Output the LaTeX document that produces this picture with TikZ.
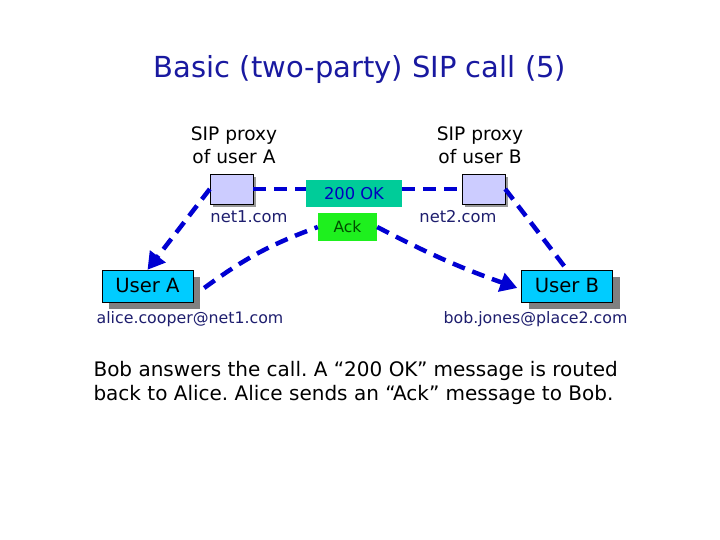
\documentclass[tikz,border=0pt]{standalone}
\usepackage{fontspec}
\setmainfont{DejaVu Sans}
\usepackage{xcolor}
\usetikzlibrary{arrows.meta,positioning,calc,shadows}
\definecolor{titleblue}{RGB}{25,25,160}
\definecolor{labnavy}{RGB}{30,30,110}
\definecolor{linkblue}{RGB}{0,0,210}
\definecolor{proxyfill}{RGB}{204,204,255}
\definecolor{okfill}{RGB}{0,204,153}
\definecolor{ackfill}{RGB}{30,240,30}
\definecolor{userfill}{RGB}{0,204,255}
\frenchspacing
\begin{document}
\begin{tikzpicture}[x=1pt,y=1pt,
  proxybox/.style={draw=black,fill=proxyfill,minimum width=43pt,minimum height=30pt,inner sep=0pt,
    drop shadow={shadow xshift=3pt,shadow yshift=-3pt,fill=gray!80,opacity=1}},
  userbox/.style={draw=black,fill=userfill,minimum width=91pt,minimum height=32pt,inner sep=0pt,
    font=\fontsize{19.6}{22}\selectfont,
    drop shadow={shadow xshift=7pt,shadow yshift=-7pt,fill=gray,opacity=1}},
  msgbox/.style={minimum height=27pt,inner sep=0pt},
  lab/.style={text=labnavy,font=\fontsize{16.3}{18}\selectfont},
  link/.style={draw=linkblue,line width=4.5pt,dash pattern=on 13pt off 8pt},
  tip/.style={-{Triangle[length=17pt,width=19pt]}}]
\useasboundingbox (0,0) rectangle (720,540);
\node[text=titleblue,font=\fontsize{29}{34}\selectfont] (title) at (360,470) {Basic (two-party) SIP call (5)};
% proxies
\node[align=center,font=\fontsize{18.6}{23}\selectfont] (labA) at (234,395) {SIP proxy\\of user A};
\node[align=center,font=\fontsize{18.6}{23}\selectfont] (labB) at (480,395) {SIP proxy\\of user B};
\node[proxybox] (pa) at (231.5,351) {};
\node[proxybox] (pb) at (483.5,351) {};
\node[lab] (net1) at (249,323) {net1.com};
\node[lab] (net2) at (458,323) {net2.com};
% messages
\node[msgbox,fill=okfill,minimum width=96pt,text=blue!75!black,font=\fontsize{16.3}{18}\selectfont] (ok) at (354,346.5) {200 OK};
\node[msgbox,fill=ackfill,minimum width=59pt,minimum height=28pt,text=green!30!black,font=\fontsize{15.5}{18}\selectfont] (ack) at (347.5,313) {Ack};
% users
\node[userbox] (ua) at (147.5,254) {User A};
\node[userbox] (ub) at (567,254) {User B};
\node[lab,font=\fontsize{15.8}{18}\selectfont] (mailA) at (190,221) {alice.cooper@net1.com};
\node[lab,font=\fontsize{15.8}{18}\selectfont] (mailB) at (535.5,221) {bob.jones@place2.com};
% links
\draw[link] (pa.east) -- (pa.east -| ok.west);
\draw[link] (pb.west -| ok.east) -- (pb.west);
\draw[link,tip] (pa.west) -- (ua.north);
\draw[link] (pb.east) -- (ub.north);
\draw[link] ([xshift=11pt,yshift=-2pt]ua.east) to[bend left=8] (ack.west);
\draw[link,tip] (ack.east) to[bend right=4] ([xshift=-4pt,yshift=-2pt]ub.west);
\node[anchor=west,align=left,font=\fontsize{20}{24}\selectfont] (note) at (90,157)
  {Bob answers the call. A “200 OK” message is routed\\back to Alice. Alice sends an “Ack” message to Bob.};
\end{tikzpicture}
\end{document}
